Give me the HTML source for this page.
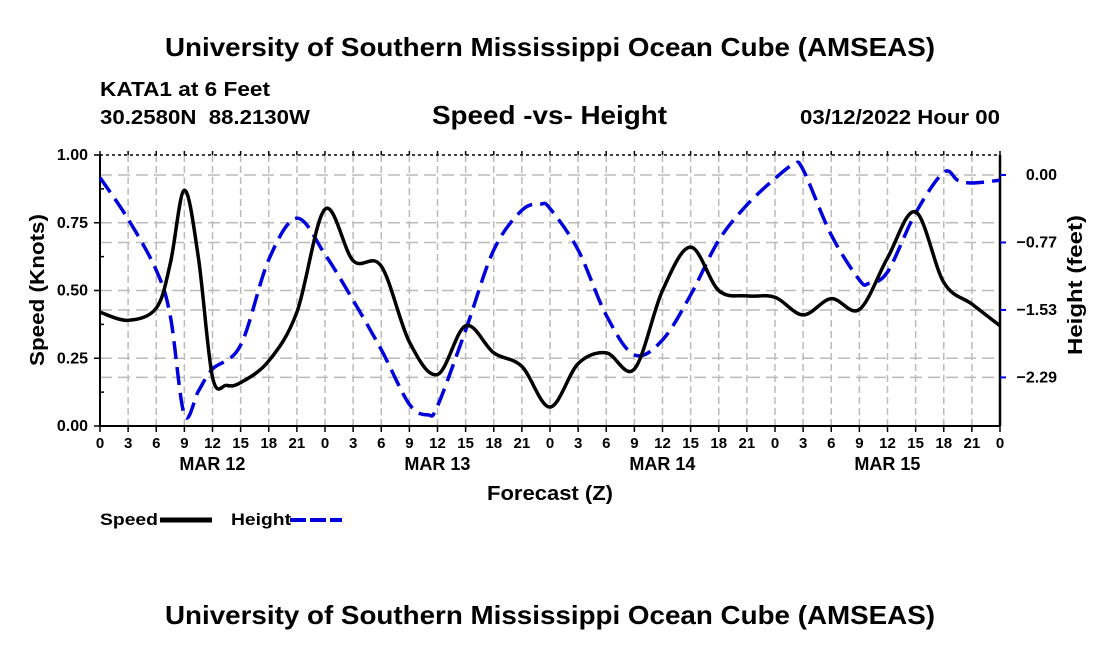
<!DOCTYPE html>
<html><head><meta charset="utf-8"><style>
body{margin:0;background:#fff;}
svg text{font-family:"Liberation Sans",Arial,sans-serif;font-weight:bold;}
</style></head><body>
<svg id="c" width="1100" height="650" xmlns="http://www.w3.org/2000/svg">
<text x="165" y="56" font-size="26" textLength="770" lengthAdjust="spacingAndGlyphs">University of Southern Mississippi Ocean Cube (AMSEAS)</text>
<text x="100" y="96" font-size="20" textLength="170" lengthAdjust="spacingAndGlyphs">KATA1 at 6 Feet</text>
<text x="100" y="124" font-size="20" textLength="210" lengthAdjust="spacingAndGlyphs" xml:space="preserve">30.2580N  88.2130W</text>
<text x="432" y="124" font-size="26" textLength="235" lengthAdjust="spacingAndGlyphs">Speed -vs- Height</text>
<text x="800" y="124" font-size="20" textLength="200" lengthAdjust="spacingAndGlyphs">03/12/2022 Hour 00</text>
<text x="487" y="500" font-size="20" textLength="126" lengthAdjust="spacingAndGlyphs">Forecast (Z)</text>
<text transform="translate(44,290) rotate(-90)" x="-76" font-size="20" textLength="152" lengthAdjust="spacingAndGlyphs">Speed (Knots)</text>
<text transform="translate(1082,285) rotate(-90)" x="-70" font-size="20" textLength="140" lengthAdjust="spacingAndGlyphs">Height (feet)</text>
<g>
<text x="100" y="525" font-size="17" textLength="58" lengthAdjust="spacingAndGlyphs">Speed</text>
<line x1="160" y1="520" x2="212" y2="520" stroke="#000" stroke-width="5"/>
<text x="231" y="525" font-size="17" textLength="60" lengthAdjust="spacingAndGlyphs">Height</text>
<line x1="290" y1="520" x2="342" y2="520" stroke="#0000dd" stroke-width="4" stroke-dasharray="16,4"/>
</g>
<text x="165" y="624" font-size="26" textLength="770" lengthAdjust="spacingAndGlyphs">University of Southern Mississippi Ocean Cube (AMSEAS)</text>
<g id="g"></g>
</svg>
<script>
const speedHours=[0,3,6,7.5,9,10.5,12,13.5,15,18,21,24,27,30,33,36,39,42,45,48,51,54,57,60,63,66,69,72,75,78,81,84,87,90,93,96];
const speedVals=[0.42,0.39,0.435,0.6,0.87,0.62,0.18,0.15,0.16,0.24,0.42,0.80,0.61,0.59,0.31,0.19,0.37,0.27,0.22,0.07,0.23,0.27,0.21,0.50,0.66,0.50,0.48,0.475,0.41,0.47,0.43,0.62,0.79,0.53,0.45,0.37];
const heightHours=[0,3,6,7.5,9,10.5,12,15,18,21,24,27,30,33,35,36,39,42,45,47,48,51,54,57,60,63,66,69,72,74,75,78,81,82,84,87,90,91.5,93,96];
const heightVals=[-0.03,-0.5,-1.08,-1.6,-2.72,-2.45,-2.2,-1.93,-0.96,-0.49,-0.9,-1.42,-1.98,-2.6,-2.72,-2.62,-1.76,-0.85,-0.4,-0.33,-0.38,-0.85,-1.59,-2.04,-1.87,-1.36,-0.74,-0.34,-0.04,0.12,0.06,-0.68,-1.19,-1.23,-1.1,-0.43,0.03,-0.06,-0.09,-0.06];
const speedTicks=["0.00","0.25","0.50","0.75","1.00"];
const heightTicks=["0.00","\u22120.77","\u22121.53","\u22122.29"];
const heightTickVals=[0,-0.765,-1.53,-2.295];
const dayLabels=["MAR 12","MAR 13","MAR 14","MAR 15"];
const L=100,R=1000,T=155,B=426;
const xs=h=>L+(R-L)*h/96;
const ys=v=>B-(B-T)*v;
const yh=v=>175-v*88.2;
const NS="http://www.w3.org/2000/svg";
const g=document.getElementById('g');
function mk(t,a,p){const e=document.createElementNS(NS,t);for(const k in a)e.setAttribute(k,a[k]);(p||g).appendChild(e);return e;}
for(let i=1;i<32;i++){const x=xs(i*3);const l=mk('line',{x1:x,y1:T,x2:x,y2:B,stroke:'#bbb','stroke-width':1.5,'stroke-dasharray':'7,4'});

}
for(let i=1;i<4;i++){const y=ys(i*0.25);const l=mk('line',{x1:L,y1:y,x2:R,y2:y,stroke:'#bbb','stroke-width':1.5,'stroke-dasharray':'12,6'});

}
heightTickVals.forEach(v=>{const y=yh(v);const l=mk('line',{x1:L,y1:y,x2:R,y2:y,stroke:'#bbb','stroke-width':1.5,'stroke-dasharray':'12,6'});

});
mk('line',{x1:L,y1:T,x2:R,y2:T,stroke:'#000','stroke-width':1.5,'stroke-dasharray':'3,3'});
mk('line',{x1:L,y1:B,x2:R,y2:B,stroke:'#000','stroke-width':2});
mk('line',{x1:L,y1:T,x2:L,y2:B,stroke:'#000','stroke-width':2});
mk('line',{x1:R,y1:T,x2:R,y2:B,stroke:'#000','stroke-width':2.5});
for(let i=0;i<=32;i++){const x=xs(i*3);mk('line',{x1:x,y1:B,x2:x,y2:B+6,stroke:'#000','stroke-width':1.5});mk('line',{x1:x,y1:T,x2:x,y2:T-4,stroke:'#000','stroke-width':1.5});
const t=mk('text',{x:x,y:B+22,'text-anchor':'middle','font-size':15});t.textContent=String((i*3)%24);

}
dayLabels.forEach((d,i)=>{const t=mk('text',{x:xs(9+24*i)+28,y:B+44,'text-anchor':'middle','font-size':18});t.textContent=d;

});
speedTicks.forEach((s,i)=>{const y=ys(i*0.25);mk('line',{x1:L-6,y1:y,x2:L,y2:y,stroke:'#000','stroke-width':1.5});
const t=mk('text',{x:L-12,y:y+5,'text-anchor':'end','font-size':16});t.textContent=s;

});
for(let i=0;i<4;i++){mk('line',{x1:L,y1:ys(i*0.25+0.125),x2:L+4,y2:ys(i*0.25+0.125),stroke:'#000','stroke-width':1.5});}
heightTicks.forEach((s,i)=>{const y=yh(heightTickVals[i]);mk('line',{x1:R,y1:y,x2:R+6,y2:y,stroke:'#0000dd','stroke-width':2});
const t=mk('text',{x:1057,y:y+5,'text-anchor':'end','font-size':16});t.textContent=s;

});
function smooth(pts){let d='M'+pts[0][0]+','+pts[0][1];for(let i=0;i<pts.length-1;i++){const p0=pts[Math.max(0,i-1)],p1=pts[i],p2=pts[i+1],p3=pts[Math.min(pts.length-1,i+2)];
d+=' C'+(p1[0]+(p2[0]-p0[0])/6)+','+(p1[1]+(p2[1]-p0[1])/6)+' '+(p2[0]-(p3[0]-p1[0])/6)+','+(p2[1]-(p3[1]-p1[1])/6)+' '+p2[0]+','+p2[1];}return d;}
const hp=mk('path',{d:smooth(heightHours.map((h,i)=>[xs(h),yh(heightVals[i])])),fill:'none',stroke:'#0000dd','stroke-width':3.5,'stroke-dasharray':'18,8'});


const sp=mk('path',{d:smooth(speedHours.map((h,i)=>[xs(h),ys(speedVals[i])])),fill:'none',stroke:'#000','stroke-width':3.5});


</script>
</body></html>
